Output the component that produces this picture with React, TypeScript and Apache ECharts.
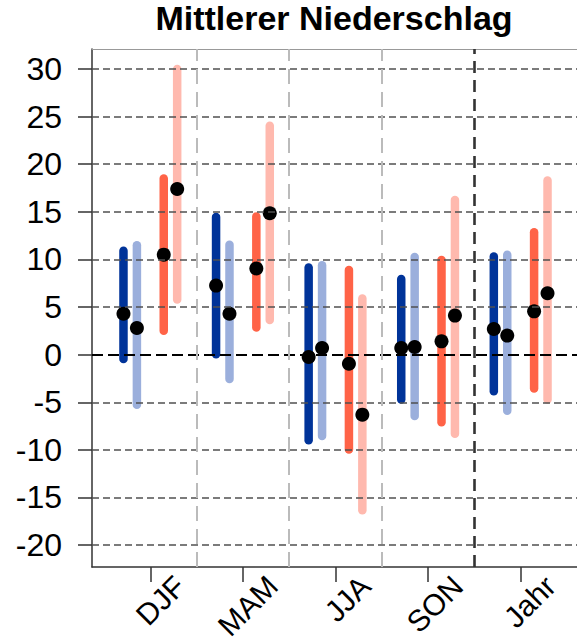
import React, { useEffect, useRef } from "react";
import * as echarts from "echarts";

const categories = ["DJF", "MAM", "JJA", "SON", "Jahr"];
const yTicks = [-20, -15, -10, -5, 0, 5, 10, 15, 20, 25, 30];
const gridValues = [-20, -15, -10, -5, 5, 10, 15, 20, 25, 30];

// dark blue
const s1Min = [-0.45, 0.05, -9.0, -4.7, -3.85];
const s1Max = [10.9, 14.45, 9.15, 7.95, 10.3];
const s1Med = [4.3, 7.25, -0.25, 0.7, 2.7];
// light blue
const s2Min = [-5.25, -2.55, -8.55, -6.45, -5.9];
const s2Max = [11.5, 11.55, 9.4, 10.25, 10.5];
const s2Med = [2.8, 4.3, 0.7, 0.8, 2.0];
// red
const s3Min = [2.5, 2.85, -9.95, -7.1, -3.55];
const s3Max = [18.5, 14.5, 8.9, 9.95, 12.85];
const s3Med = [10.5, 9.05, -0.95, 1.4, 4.55];
// light red
const s4Min = [5.8, 3.65, -16.35, -8.3, -4.7];
const s4Max = [30.0, 24.05, 5.9, 16.25, 18.3];
const s4Med = [17.4, 14.85, -6.3, 4.1, 6.45];

const FONT = "'Liberation Sans', Arial, Helvetica, sans-serif";
const LABEL_SHIFT = 0.32;

export default function App() {
  const ref = useRef<HTMLDivElement>(null);
  useEffect(() => {
    if (!ref.current) return;
    const chart = echarts.init(ref.current, null, { renderer: "svg" });
    const groups = [
      { min: s1Min, max: s1Max, med: s1Med, off: -0.29, color: "#003399" },
      { min: s2Min, max: s2Max, med: s2Med, off: -0.145, color: "#9BAFDC" },
      { min: s3Min, max: s3Max, med: s3Med, off: 0.145, color: "#FF6347" },
      { min: s4Min, max: s4Max, med: s4Med, off: 0.29, color: "#FFB9AE" },
    ];
    const series: any[] = [
      {
        type: "line",
        data: [],
        z: 1,
        silent: true,
        markLine: {
          silent: true,
          symbol: "none",
          label: { show: false },
          animation: false,
          data: [
            ...gridValues.map((v) => ({ yAxis: v, lineStyle: { color: "#505050", width: 1.5, type: [7, 4] } })),
            { yAxis: 0, lineStyle: { color: "#000", width: 2.2, type: [11, 5] } },
            ...[1.5, 2.5, 3.5].map((v) => ({ xAxis: v, lineStyle: { color: "#bbbbbb", width: 2, type: [15, 8] } })),
            { xAxis: 4.5, lineStyle: { color: "#333", width: 2.6, type: [12, 7] } },
          ],
        },
      },
    ];
    groups.forEach((g) => {
      series.push({
        type: "custom",
        z: 2,
        silent: true,
        data: categories.map((_, i) => [i + 1 + g.off, g.min[i], g.max[i]]),
        encode: { x: 0, y: [1, 2] },
        renderItem: (params: any, api: any) => {
          const x = api.value(0);
          const p1 = api.coord([x, api.value(1)]);
          const p2 = api.coord([x, api.value(2)]);
          return {
            type: "line",
            shape: { x1: p1[0], y1: p1[1], x2: p2[0], y2: p2[1] },
            style: { stroke: g.color, lineWidth: 8.5, lineCap: "round" },
          };
        },
      });
    });
    groups.forEach((g) => {
      series.push({
        type: "scatter",
        z: 3,
        silent: true,
        symbol: "circle",
        symbolSize: 14,
        itemStyle: { color: "#000", opacity: 1 },
        data: categories.map((_, i) => [i + 1 + g.off, g.med[i]]),
      });
    });
    chart.setOption({
      animation: false,
      grid: { left: 92, right: -2, top: 49, bottom: 76, outerBoundsMode: "none", containLabel: false },
      xAxis: [
        {
          type: "value",
          min: 0.37,
          max: 5.63,
          position: "bottom",
          splitLine: { show: false },
          axisLine: { show: true, onZero: false, lineStyle: { color: "#333", width: 1.5 } },
          axisTick: {
            show: true,
            customValues: categories.map((_, i) => i + 1),
            length: 15,
            lineStyle: { color: "#333", width: 1.5 },
          },
          axisLabel: {
            show: true,
            customValues: categories.map((_, i) => i + 1 + LABEL_SHIFT),
            formatter: (v: number) => categories[Math.round(v - LABEL_SHIFT) - 1] ?? "",
            rotate: 45,
            margin: 14,
            fontSize: 30,
            fontFamily: FONT,
            color: "#000",
          },
        },
        {
          type: "value",
          min: 0.37,
          max: 5.63,
          position: "top",
          splitLine: { show: false },
          axisLine: { show: true, onZero: false, lineStyle: { color: "#999", width: 1.2 } },
          axisTick: { show: false },
          axisLabel: { show: false },
        },
      ],
      yAxis: {
        type: "value",
        min: -22.3,
        max: 32.1,
        splitLine: { show: false },
        axisLine: { show: true, onZero: false, lineStyle: { color: "#333", width: 1.5 } },
        axisTick: { show: true, customValues: yTicks, length: 14, lineStyle: { color: "#333", width: 1.5 } },
        axisLabel: {
          show: true,
          customValues: yTicks,
          margin: 30,
          fontSize: 32,
          fontFamily: FONT,
          color: "#000",
        },
      },
      graphic: [
        {
          type: "text",
          x: 334,
          y: 18,
          style: {
            text: "Mittlerer Niederschlag",
            fontSize: 34,
            fontWeight: "bold",
            fontFamily: FONT,
            fill: "#000",
            align: "center",
            verticalAlign: "middle",
          },
        },
      ],
      series,
    });
    return () => chart.dispose();
  }, []);
  return (
    <div
      ref={ref}
      style={{ position: "fixed", left: 0, top: 0, width: 577, height: 643, overflow: "hidden", background: "#fff" }}
    />
  );
}
